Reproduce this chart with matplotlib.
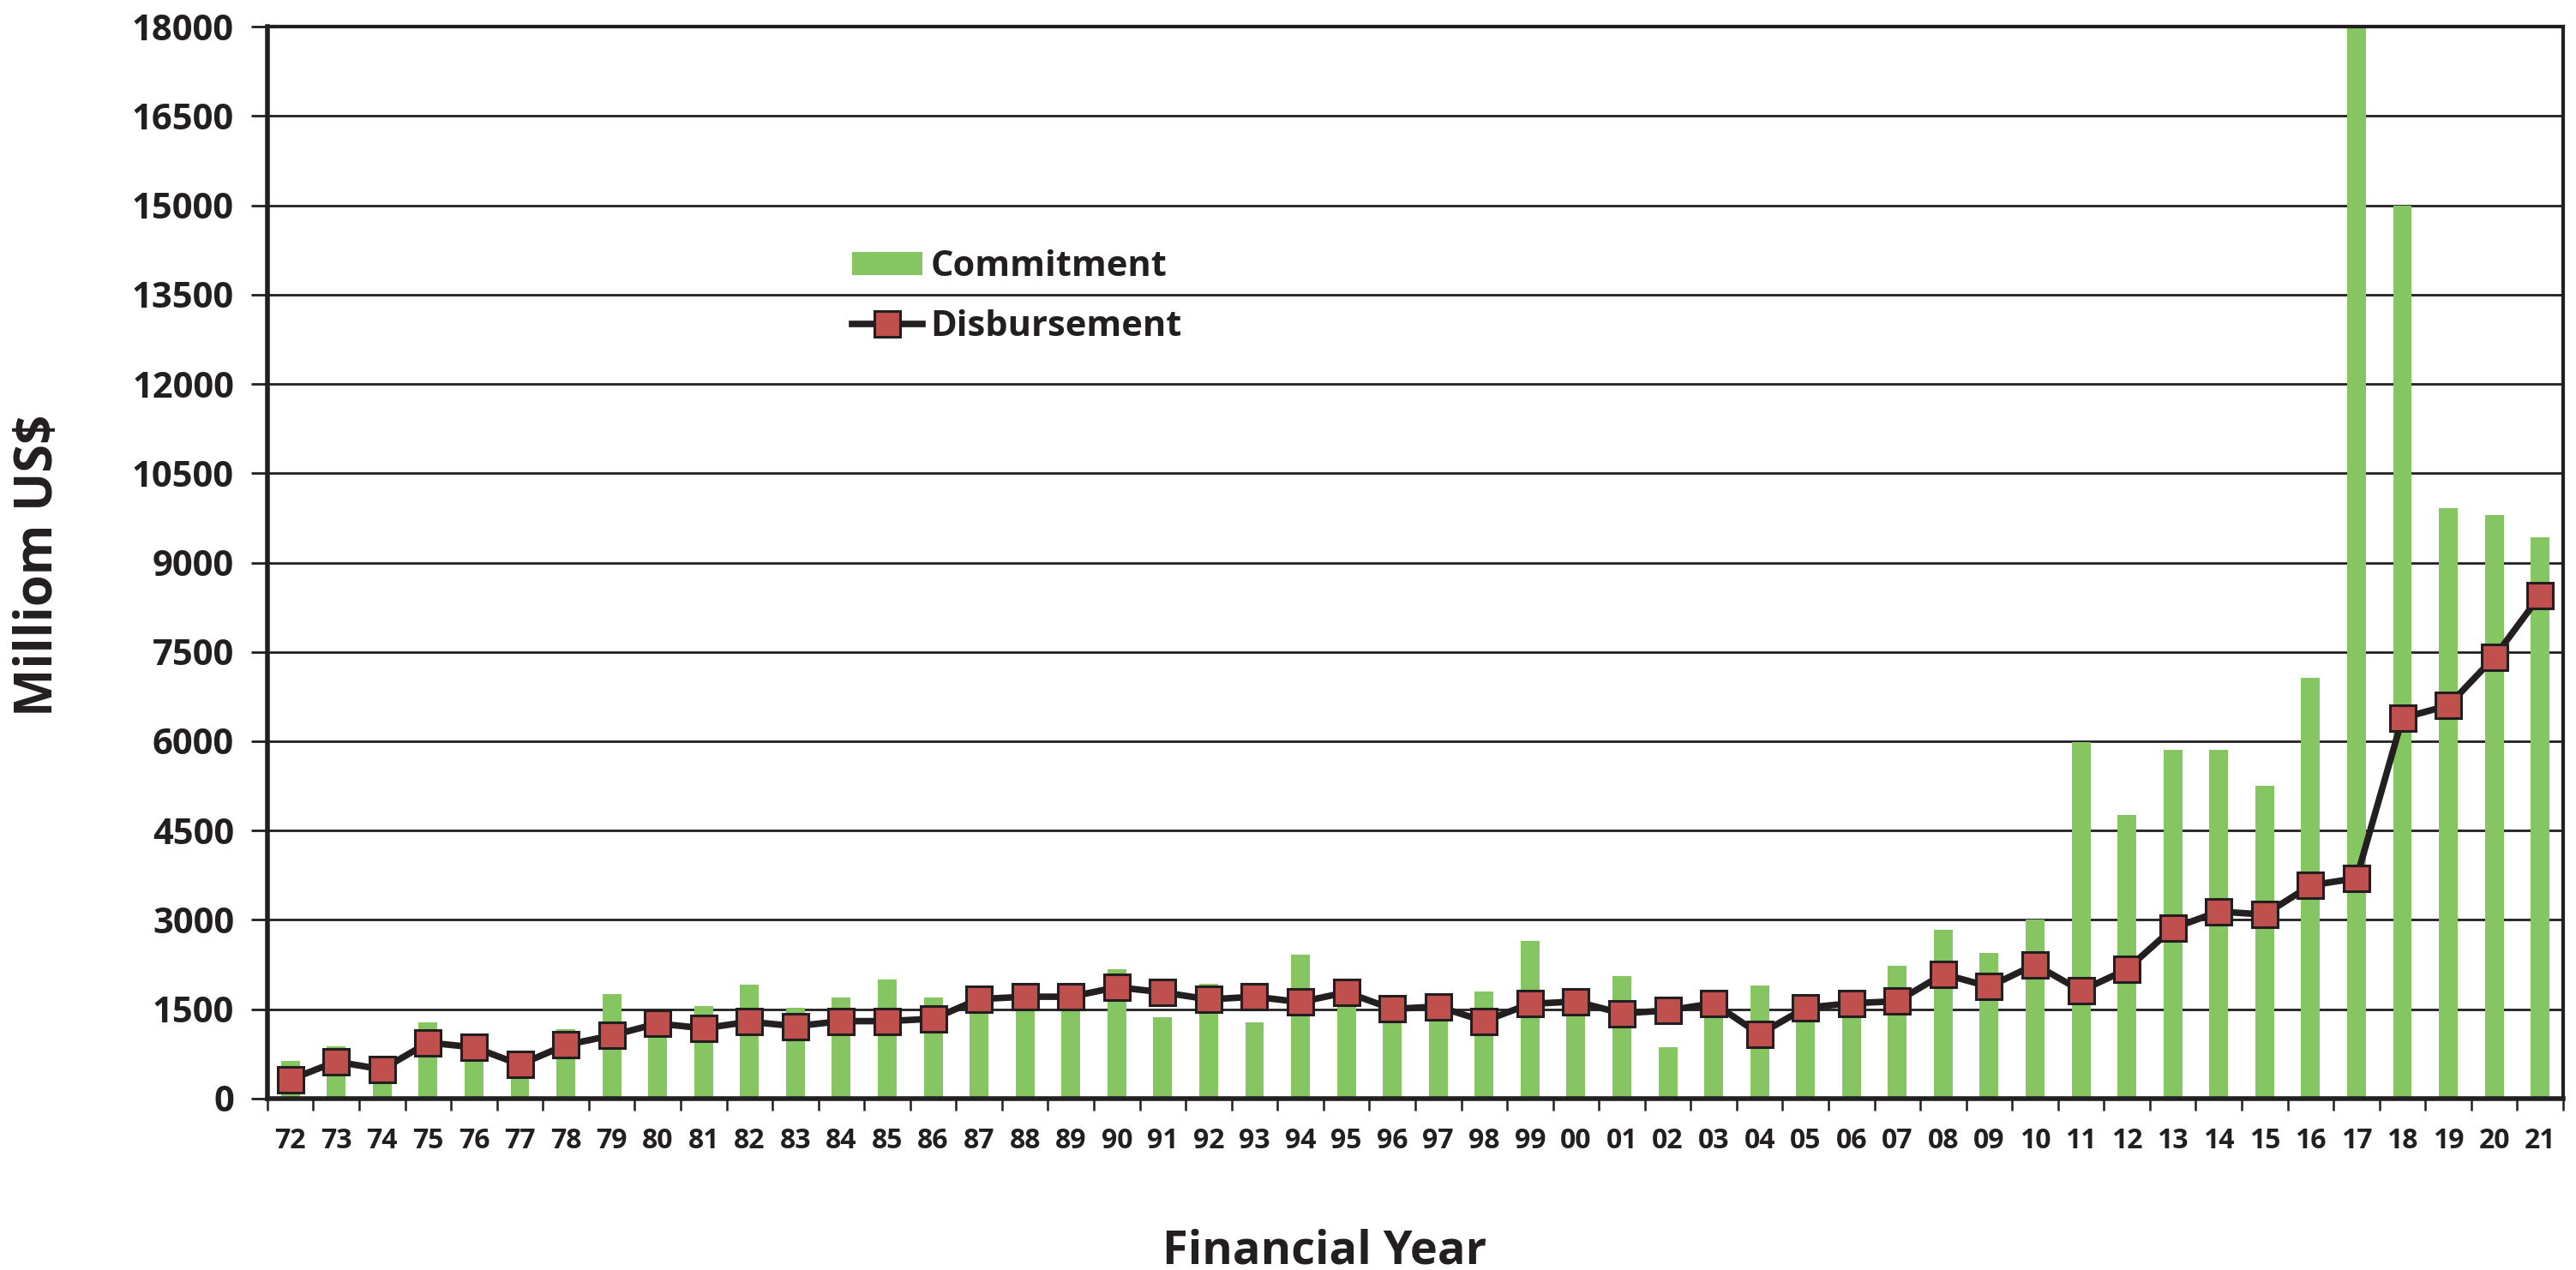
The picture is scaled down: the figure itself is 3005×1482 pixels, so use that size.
import numpy as np
import matplotlib.pyplot as plt
from matplotlib.ticker import FixedLocator

# financial years (two-digit labels)
years = ['72', '73', '74', '75', '76', '77', '78', '79', '80', '81',
         '82', '83', '84', '85', '86', '87', '88', '89', '90', '91',
         '92', '93', '94', '95', '96', '97', '98', '99', '00', '01',
         '02', '03', '04', '05', '06', '07', '08', '09', '10', '11',
         '12', '13', '14', '15', '16', '17', '18', '19', '20', '21']
# commitment, million US$ (bars)
commitment = [630, 880, 350, 1280, 850, 500, 1160, 1760, 1300, 1560,
              1920, 1520, 1690, 2000, 1690, 1650, 1650, 1650, 2170, 1360,
              1930, 1280, 2420, 1750, 1280, 1500, 1800, 2650, 1550, 2050,
              860, 1600, 1900, 1500, 1600, 2230, 2840, 2440, 3000, 5990,
              4760, 5860, 5860, 5250, 7060, 18000, 15000, 9910, 9800, 9420]
# disbursement, million US$ (line)
disbursement = [320, 620, 490, 940, 860, 570, 900, 1060, 1260, 1180,
                1290, 1215, 1300, 1300, 1340, 1670, 1710, 1710, 1870, 1785,
                1665, 1710, 1620, 1785, 1505, 1545, 1300, 1590, 1630, 1430,
                1480, 1600, 1080, 1525, 1600, 1635, 2090, 1880, 2250, 1810,
                2170, 2860, 3140, 3090, 3580, 3700, 6390, 6600, 7410, 8450]
yticks = [0, 1500, 3000, 4500, 6000, 7500, 9000, 10500, 12000, 13500, 15000, 16500, 18000]

dark = '#231f20'
plt.rcParams['font.family'] = ['Open Sans', 'DejaVu Sans']
plt.rcParams['font.weight'] = 'bold'

fig = plt.figure(figsize=(30.05, 14.82), dpi=100)
ax = fig.add_axes([0.1038, 0.135, 0.8912, 0.844])

x = np.arange(len(years))
bars = ax.bar(x, commitment, width=0.41, color='#86c662', label='Commitment', zorder=2)
line, = ax.plot(x, disbursement, color=dark, lw=5.5, marker='s', markersize=21,
                markerfacecolor='#c0504d', markeredgecolor=dark, markeredgewidth=2.2,
                label='Disbursement', zorder=3)

ax.set_xlim(-0.5, len(years) - 0.5)
ax.set_ylim(0, 18000)
ax.set_yticks(yticks)
ax.set_yticklabels([str(v) for v in yticks])
ax.yaxis.grid(True, color=dark, lw=2)
ax.set_axisbelow(True)

ax.set_xticks(x)
ax.set_xticklabels(years)
ax.xaxis.set_minor_locator(FixedLocator(np.arange(-0.5, len(years), 1.0)))
ax.tick_params(axis='x', which='major', length=0, pad=24, labelsize=23, labelcolor=dark)
ax.tick_params(axis='x', which='minor', length=10, width=1.8, color=dark)
ax.tick_params(axis='y', length=14, width=2, color=dark, pad=14, labelsize=30, labelcolor=dark)

for side in ['left', 'bottom']:
    ax.spines[side].set_linewidth(4)
    ax.spines[side].set_color(dark)
for side in ['top', 'right']:
    ax.spines[side].set_linewidth(3)
    ax.spines[side].set_color(dark)

fig.text(0.015, 0.555, 'Milliom US$', rotation=90, fontsize=43, color=dark,
         fontweight='bold', ha='center', va='center')
fig.text(0.514, 0.005, 'Financial Year', fontsize=39, color=dark,
         fontweight='bold', ha='center', va='baseline')

leg = ax.legend([bars, line], ['Commitment', 'Disbursement'], loc='upper left',
                bbox_to_anchor=(0.2407, 0.822), frameon=False, fontsize=30,
                handlelength=1.97, handleheight=0.62, labelspacing=0.7, handletextpad=0.22)
for t in leg.get_texts():
    t.set_color(dark)

fig.savefig('out.png', dpi=100)
